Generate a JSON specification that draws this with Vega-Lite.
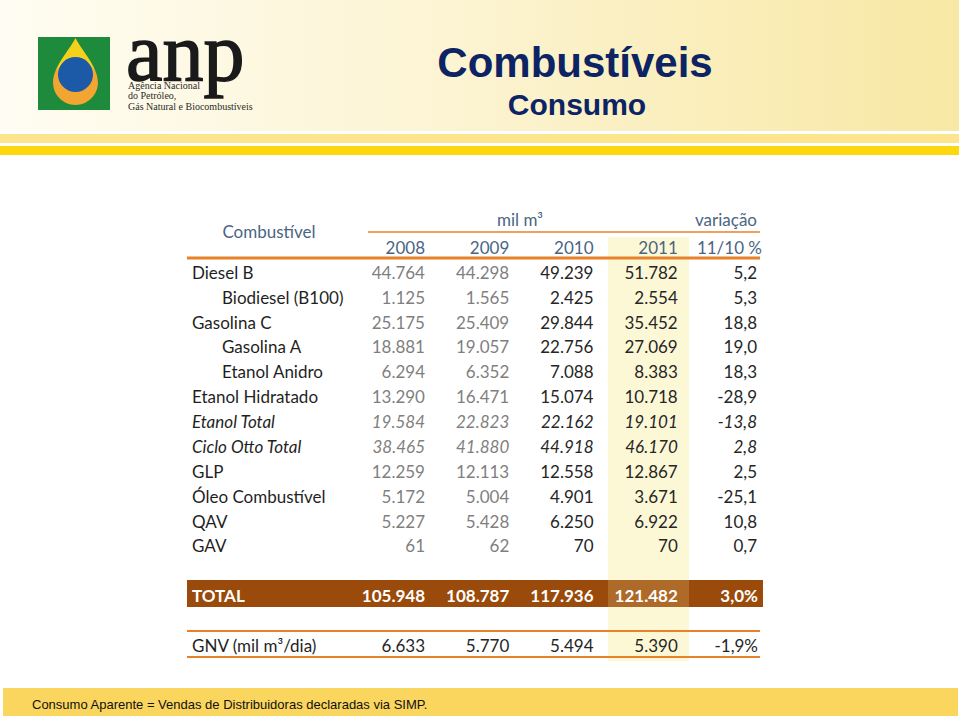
{
  "$schema": "https://vega.github.io/schema/vega-lite/v6.json",
  "width": 959,
  "height": 721,
  "autosize": {"type": "fit", "contains": "padding"},
  "padding": 0,
  "background": "#ffffff",
  "config": {
    "view": {"stroke": null},
    "locale": {"number": {"decimal": ",", "thousands": ".", "grouping": [3], "currency": ["", "%"], "minus": "-"}}
  },
  "datasets": {
    "fuels": [
      {"fuel": "Diesel B", "level": "main", "y2008": 44764, "y2009": 44298, "y2010": 49239, "y2011": 51782, "var": 5.2},
      {"fuel": "Biodiesel (B100)", "level": "sub", "y2008": 1125, "y2009": 1565, "y2010": 2425, "y2011": 2554, "var": 5.3},
      {"fuel": "Gasolina C", "level": "main", "y2008": 25175, "y2009": 25409, "y2010": 29844, "y2011": 35452, "var": 18.8},
      {"fuel": "Gasolina A", "level": "sub", "y2008": 18881, "y2009": 19057, "y2010": 22756, "y2011": 27069, "var": 19.0},
      {"fuel": "Etanol Anidro", "level": "sub", "y2008": 6294, "y2009": 6352, "y2010": 7088, "y2011": 8383, "var": 18.3},
      {"fuel": "Etanol Hidratado", "level": "main", "y2008": 13290, "y2009": 16471, "y2010": 15074, "y2011": 10718, "var": -28.9},
      {"fuel": "Etanol Total", "level": "italic", "y2008": 19584, "y2009": 22823, "y2010": 22162, "y2011": 19101, "var": -13.8},
      {"fuel": "Ciclo Otto Total", "level": "italic", "y2008": 38465, "y2009": 41880, "y2010": 44918, "y2011": 46170, "var": 2.8},
      {"fuel": "GLP", "level": "main", "y2008": 12259, "y2009": 12113, "y2010": 12558, "y2011": 12867, "var": 2.5},
      {"fuel": "Óleo Combustível", "level": "main", "y2008": 5172, "y2009": 5004, "y2010": 4901, "y2011": 3671, "var": -25.1},
      {"fuel": "QAV", "level": "main", "y2008": 5227, "y2009": 5428, "y2010": 6250, "y2011": 6922, "var": 10.8},
      {"fuel": "GAV", "level": "main", "y2008": 61, "y2009": 62, "y2010": 70, "y2011": 70, "var": 0.7},
      {"fuel": "TOTAL", "level": "total", "y2008": 105948, "y2009": 108787, "y2010": 117936, "y2011": 121482, "var": 3.0},
      {"fuel": "GNV (mil m³/dia)", "level": "gnv", "y2008": 6633, "y2009": 5770, "y2010": 5494, "y2011": 5390, "var": -1.9}
    ],
    "cols": [
      {"col": "y2008", "head": "2008"},
      {"col": "y2009", "head": "2009"},
      {"col": "y2010", "head": "2010"},
      {"col": "y2011", "head": "2011"},
      {"col": "var", "head": "11/10 %"}
    ]
  },
  "layer": [
    {"data": {"values": [{}]}, "mark": {"type": "rect", "x": 0, "x2": 959, "y": 0, "y2": 131, "color": {"gradient": "linear", "x1": 0, "y1": 0, "x2": 1, "y2": 0, "stops": [{"offset": 0, "color": "#FFFDF3"}, {"offset": 0.5, "color": "#FCF3D0"}, {"offset": 1, "color": "#F8E8A4"}]}}, "encoding": {}},
    {"data": {"values": [{}]}, "mark": {"type": "rect", "x": 0, "x2": 959, "y": 134, "y2": 143, "color": "#FCE58C"}, "encoding": {}},
    {"data": {"values": [{}]}, "mark": {"type": "rect", "x": 0, "x2": 959, "y": 146, "y2": 155, "color": "#FDD80F"}, "encoding": {}},
    {"data": {"values": [{}]}, "mark": {"type": "rect", "x": 3, "x2": 958, "y": 688, "y2": 716, "color": "#FAD65E"}, "encoding": {}},
    {"data": {"values": [{}]}, "mark": {"type": "rect", "x": 38, "x2": 110, "y": 37, "y2": 110, "color": "#1E8A3C"}, "encoding": {}},
    {"data": {"values": [{}]}, "mark": {"type": "point", "filled": true, "opacity": 1, "x": 75.5, "y": 71.5, "size": 4489, "shape": "M0,-1 C0.2,-0.6 0.67,-0.15 0.67,0.33 A0.67,0.67 0 1 1 -0.67,0.33 C-0.67,-0.15 -0.2,-0.6 0,-1 Z", "color": {"gradient": "linear", "x1": 0, "y1": 0, "x2": 0, "y2": 1, "stops": [{"offset": 0, "color": "#F4D21C"}, {"offset": 0.42, "color": "#F4D21C"}, {"offset": 0.5, "color": "#F2A531"}, {"offset": 1, "color": "#F2A531"}]}}, "encoding": {}},
    {"data": {"values": [{}]}, "mark": {"type": "point", "filled": true, "opacity": 1, "x": 75.5, "y": 74.5, "size": 1225, "shape": "circle", "color": "#1C5AA8"}, "encoding": {}},
    {"data": {"values": [{}]}, "mark": {"type": "text", "x": 126, "y": 80, "text": "anp", "font": "Liberation Serif", "fontSize": 82, "align": "left", "baseline": "alphabetic", "color": "#1a1a1a", "stroke": "#1a1a1a", "strokeWidth": 1.5}, "encoding": {}},
    {"data": {"values": [{}]}, "mark": {"type": "text", "x": 128, "y": 89, "text": "Agência Nacional", "font": "Liberation Serif", "fontSize": 10, "align": "left", "baseline": "alphabetic", "color": "#2a2a2a"}, "encoding": {}},
    {"data": {"values": [{}]}, "mark": {"type": "text", "x": 128, "y": 99, "text": "do Petróleo,", "font": "Liberation Serif", "fontSize": 10, "align": "left", "baseline": "alphabetic", "color": "#2a2a2a"}, "encoding": {}},
    {"data": {"values": [{}]}, "mark": {"type": "text", "x": 128, "y": 109.5, "text": "Gás Natural e Biocombustíveis", "font": "Liberation Serif", "fontSize": 10, "align": "left", "baseline": "alphabetic", "color": "#2a2a2a"}, "encoding": {}},
    {"data": {"values": [{}]}, "mark": {"type": "text", "x": 575, "y": 77, "text": "Combustíveis", "font": "Liberation Sans", "fontWeight": "bold", "fontSize": 42, "align": "center", "baseline": "alphabetic", "color": "#0C2463"}, "encoding": {}},
    {"data": {"values": [{}]}, "mark": {"type": "text", "x": 577, "y": 115, "text": "Consumo", "font": "Liberation Sans", "fontWeight": "bold", "fontSize": 30, "align": "center", "baseline": "alphabetic", "color": "#0C2463"}, "encoding": {}},
    {"data": {"values": [{}]}, "mark": {"type": "rect", "x": 608, "x2": 689, "y": 237, "y2": 661, "color": "#FCF8D6"}, "encoding": {}},
    {"data": {"values": [{}]}, "mark": {"type": "rect", "x": 187, "x2": 763, "y": 580, "y2": 607, "color": "#9A4A0A"}, "encoding": {}},
    {"data": {"values": [{}]}, "mark": {"type": "rect", "x": 608, "x2": 689, "y": 580, "y2": 607, "color": "#F3DE9A", "opacity": 0.22}, "encoding": {}},
    {"data": {"values": [{}]}, "mark": {"type": "rect", "x": 368, "x2": 760, "y": 231.3, "y2": 232.8, "color": "#E8822A"}, "encoding": {}},
    {"data": {"values": [{}]}, "mark": {"type": "rect", "x": 187, "x2": 760, "y": 256.5, "y2": 259.5, "color": "#E8822A"}, "encoding": {}},
    {"data": {"values": [{}]}, "mark": {"type": "rect", "x": 187, "x2": 760, "y": 630, "y2": 632, "color": "#E8822A"}, "encoding": {}},
    {"data": {"values": [{}]}, "mark": {"type": "rect", "x": 187, "x2": 760, "y": 656, "y2": 658, "color": "#E8822A"}, "encoding": {}},
    {"data": {"values": [{}]}, "mark": {"type": "text", "x": 269, "y": 232.5, "text": "Combustível", "font": "Lato", "fontSize": 17, "align": "center", "baseline": "middle", "color": "#4A6583"}, "encoding": {}},
    {"data": {"values": [{}]}, "mark": {"type": "text", "x": 520, "y": 220.5, "text": "mil m³", "font": "Lato", "fontSize": 17, "align": "center", "baseline": "middle", "color": "#4A6583"}, "encoding": {}},
    {"data": {"values": [{}]}, "mark": {"type": "text", "x": 757, "y": 220.5, "text": "variação", "font": "Lato", "fontSize": 17, "align": "right", "baseline": "middle", "color": "#4A6583"}, "encoding": {}},
    {
      "data": {"name": "cols"},
      "mark": {"type": "text", "font": "Lato", "fontSize": 17, "align": "right", "baseline": "middle", "color": "#4A6583"},
      "encoding": {
        "x": {"field": "col", "type": "nominal", "axis": null, "scale": {"type": "point", "domain": ["y2008", "y2009", "y2010", "y2011", "var"], "range": [425, 762], "padding": 0}},
        "y": {"datum": "hdr2", "type": "nominal", "axis": null, "scale": {"type": "point", "domain": ["hdr1", "hdr2", "Diesel B", "Biodiesel (B100)", "Gasolina C", "Gasolina A", "Etanol Anidro", "Etanol Hidratado", "Etanol Total", "Ciclo Otto Total", "GLP", "Óleo Combustível", "QAV", "GAV", "sp1", "TOTAL", "sp2", "GNV (mil m³/dia)"], "range": [224, 647], "padding": 0}},
        "text": {"field": "head", "type": "nominal"}
      }
    },
    {
      "data": {"name": "fuels"},
      "transform": [{"filter": "datum.level === 'main' || datum.level === 'gnv'"}],
      "mark": {"type": "text", "font": "Lato", "fontSize": 17, "align": "left", "baseline": "middle", "color": "#1f1f1f", "x": 192},
      "encoding": {
        "y": {"field": "fuel", "type": "nominal", "axis": null, "scale": {"type": "point", "domain": ["hdr1", "hdr2", "Diesel B", "Biodiesel (B100)", "Gasolina C", "Gasolina A", "Etanol Anidro", "Etanol Hidratado", "Etanol Total", "Ciclo Otto Total", "GLP", "Óleo Combustível", "QAV", "GAV", "sp1", "TOTAL", "sp2", "GNV (mil m³/dia)"], "range": [224, 647], "padding": 0}},
        "text": {"field": "fuel", "type": "nominal"}
      }
    },
    {
      "data": {"name": "fuels"},
      "transform": [{"filter": "datum.level === 'sub'"}],
      "mark": {"type": "text", "font": "Lato", "fontSize": 17, "align": "left", "baseline": "middle", "color": "#1f1f1f", "x": 222},
      "encoding": {
        "y": {"field": "fuel", "type": "nominal", "axis": null, "scale": {"type": "point", "domain": ["hdr1", "hdr2", "Diesel B", "Biodiesel (B100)", "Gasolina C", "Gasolina A", "Etanol Anidro", "Etanol Hidratado", "Etanol Total", "Ciclo Otto Total", "GLP", "Óleo Combustível", "QAV", "GAV", "sp1", "TOTAL", "sp2", "GNV (mil m³/dia)"], "range": [224, 647], "padding": 0}},
        "text": {"field": "fuel", "type": "nominal"}
      }
    },
    {
      "data": {"name": "fuels"},
      "transform": [{"filter": "datum.level === 'italic'"}],
      "mark": {"type": "text", "font": "Lato", "fontSize": 17, "fontStyle": "italic", "align": "left", "baseline": "middle", "color": "#1f1f1f", "x": 192},
      "encoding": {
        "y": {"field": "fuel", "type": "nominal", "axis": null, "scale": {"type": "point", "domain": ["hdr1", "hdr2", "Diesel B", "Biodiesel (B100)", "Gasolina C", "Gasolina A", "Etanol Anidro", "Etanol Hidratado", "Etanol Total", "Ciclo Otto Total", "GLP", "Óleo Combustível", "QAV", "GAV", "sp1", "TOTAL", "sp2", "GNV (mil m³/dia)"], "range": [224, 647], "padding": 0}},
        "text": {"field": "fuel", "type": "nominal"}
      }
    },
    {
      "data": {"name": "fuels"},
      "transform": [{"filter": "datum.level === 'total'"}],
      "mark": {"type": "text", "font": "Lato", "fontSize": 17, "fontWeight": "bold", "align": "left", "baseline": "middle", "color": "#ffffff", "x": 192},
      "encoding": {
        "y": {"field": "fuel", "type": "nominal", "axis": null, "scale": {"type": "point", "domain": ["hdr1", "hdr2", "Diesel B", "Biodiesel (B100)", "Gasolina C", "Gasolina A", "Etanol Anidro", "Etanol Hidratado", "Etanol Total", "Ciclo Otto Total", "GLP", "Óleo Combustível", "QAV", "GAV", "sp1", "TOTAL", "sp2", "GNV (mil m³/dia)"], "range": [224, 647], "padding": 0}},
        "text": {"field": "fuel", "type": "nominal"}
      }
    },
    {
      "data": {"name": "fuels"},
      "transform": [{"filter": "datum.level === 'main' || datum.level === 'sub'"}, {"fold": ["y2008", "y2009", "y2010", "y2011"], "as": ["col", "value"]}],
      "mark": {"type": "text", "font": "Lato", "fontSize": 17, "align": "right", "baseline": "middle"},
      "encoding": {
        "x": {"field": "col", "type": "nominal", "axis": null, "scale": {"type": "point", "domain": ["y2008", "y2009", "y2010", "y2011", "var"], "range": [425, 762], "padding": 0}},
        "y": {"field": "fuel", "type": "nominal", "axis": null, "scale": {"type": "point", "domain": ["hdr1", "hdr2", "Diesel B", "Biodiesel (B100)", "Gasolina C", "Gasolina A", "Etanol Anidro", "Etanol Hidratado", "Etanol Total", "Ciclo Otto Total", "GLP", "Óleo Combustível", "QAV", "GAV", "sp1", "TOTAL", "sp2", "GNV (mil m³/dia)"], "range": [224, 647], "padding": 0}},
        "text": {"field": "value", "type": "quantitative", "format": ",.0f"},
        "color": {"field": "col", "type": "nominal", "legend": null, "scale": {"domain": ["y2008", "y2009", "y2010", "y2011", "var"], "range": ["#7f7f7f", "#7f7f7f", "#262626", "#262626", "#262626"]}}
      }
    },
    {
      "data": {"name": "fuels"},
      "transform": [{"filter": "datum.level === 'italic'"}, {"fold": ["y2008", "y2009", "y2010", "y2011"], "as": ["col", "value"]}],
      "mark": {"type": "text", "font": "Lato", "fontSize": 17, "fontStyle": "italic", "align": "right", "baseline": "middle"},
      "encoding": {
        "x": {"field": "col", "type": "nominal", "axis": null, "scale": {"type": "point", "domain": ["y2008", "y2009", "y2010", "y2011", "var"], "range": [425, 762], "padding": 0}},
        "y": {"field": "fuel", "type": "nominal", "axis": null, "scale": {"type": "point", "domain": ["hdr1", "hdr2", "Diesel B", "Biodiesel (B100)", "Gasolina C", "Gasolina A", "Etanol Anidro", "Etanol Hidratado", "Etanol Total", "Ciclo Otto Total", "GLP", "Óleo Combustível", "QAV", "GAV", "sp1", "TOTAL", "sp2", "GNV (mil m³/dia)"], "range": [224, 647], "padding": 0}},
        "text": {"field": "value", "type": "quantitative", "format": ",.0f"},
        "color": {"field": "col", "type": "nominal", "legend": null, "scale": {"domain": ["y2008", "y2009", "y2010", "y2011", "var"], "range": ["#7f7f7f", "#7f7f7f", "#262626", "#262626", "#262626"]}}
      }
    },
    {
      "data": {"name": "fuels"},
      "transform": [{"filter": "datum.level === 'total'"}, {"fold": ["y2008", "y2009", "y2010", "y2011"], "as": ["col", "value"]}],
      "mark": {"type": "text", "font": "Lato", "fontSize": 17, "fontWeight": "bold", "align": "right", "baseline": "middle", "color": "#ffffff"},
      "encoding": {
        "x": {"field": "col", "type": "nominal", "axis": null, "scale": {"type": "point", "domain": ["y2008", "y2009", "y2010", "y2011", "var"], "range": [425, 762], "padding": 0}},
        "y": {"field": "fuel", "type": "nominal", "axis": null, "scale": {"type": "point", "domain": ["hdr1", "hdr2", "Diesel B", "Biodiesel (B100)", "Gasolina C", "Gasolina A", "Etanol Anidro", "Etanol Hidratado", "Etanol Total", "Ciclo Otto Total", "GLP", "Óleo Combustível", "QAV", "GAV", "sp1", "TOTAL", "sp2", "GNV (mil m³/dia)"], "range": [224, 647], "padding": 0}},
        "text": {"field": "value", "type": "quantitative", "format": ",.0f"}
      }
    },
    {
      "data": {"name": "fuels"},
      "transform": [{"filter": "datum.level === 'gnv'"}, {"fold": ["y2008", "y2009", "y2010", "y2011"], "as": ["col", "value"]}],
      "mark": {"type": "text", "font": "Lato", "fontSize": 17, "align": "right", "baseline": "middle", "color": "#262626"},
      "encoding": {
        "x": {"field": "col", "type": "nominal", "axis": null, "scale": {"type": "point", "domain": ["y2008", "y2009", "y2010", "y2011", "var"], "range": [425, 762], "padding": 0}},
        "y": {"field": "fuel", "type": "nominal", "axis": null, "scale": {"type": "point", "domain": ["hdr1", "hdr2", "Diesel B", "Biodiesel (B100)", "Gasolina C", "Gasolina A", "Etanol Anidro", "Etanol Hidratado", "Etanol Total", "Ciclo Otto Total", "GLP", "Óleo Combustível", "QAV", "GAV", "sp1", "TOTAL", "sp2", "GNV (mil m³/dia)"], "range": [224, 647], "padding": 0}},
        "text": {"field": "value", "type": "quantitative", "format": ",.0f"}
      }
    },
    {
      "data": {"name": "fuels"},
      "transform": [{"filter": "datum.level === 'main' || datum.level === 'sub'"}],
      "mark": {"type": "text", "font": "Lato", "fontSize": 17, "align": "right", "baseline": "middle", "color": "#262626", "dx": -5},
      "encoding": {
        "x": {"datum": "var", "type": "nominal", "axis": null, "scale": {"type": "point", "domain": ["y2008", "y2009", "y2010", "y2011", "var"], "range": [425, 762], "padding": 0}},
        "y": {"field": "fuel", "type": "nominal", "axis": null, "scale": {"type": "point", "domain": ["hdr1", "hdr2", "Diesel B", "Biodiesel (B100)", "Gasolina C", "Gasolina A", "Etanol Anidro", "Etanol Hidratado", "Etanol Total", "Ciclo Otto Total", "GLP", "Óleo Combustível", "QAV", "GAV", "sp1", "TOTAL", "sp2", "GNV (mil m³/dia)"], "range": [224, 647], "padding": 0}},
        "text": {"field": "var", "type": "quantitative", "format": ".1f"}
      }
    },
    {
      "data": {"name": "fuels"},
      "transform": [{"filter": "datum.level === 'italic'"}],
      "mark": {"type": "text", "font": "Lato", "fontSize": 17, "fontStyle": "italic", "align": "right", "baseline": "middle", "color": "#262626", "dx": -5},
      "encoding": {
        "x": {"datum": "var", "type": "nominal", "axis": null, "scale": {"type": "point", "domain": ["y2008", "y2009", "y2010", "y2011", "var"], "range": [425, 762], "padding": 0}},
        "y": {"field": "fuel", "type": "nominal", "axis": null, "scale": {"type": "point", "domain": ["hdr1", "hdr2", "Diesel B", "Biodiesel (B100)", "Gasolina C", "Gasolina A", "Etanol Anidro", "Etanol Hidratado", "Etanol Total", "Ciclo Otto Total", "GLP", "Óleo Combustível", "QAV", "GAV", "sp1", "TOTAL", "sp2", "GNV (mil m³/dia)"], "range": [224, 647], "padding": 0}},
        "text": {"field": "var", "type": "quantitative", "format": ".1f"}
      }
    },
    {
      "data": {"name": "fuels"},
      "transform": [{"filter": "datum.level === 'total'"}],
      "mark": {"type": "text", "font": "Lato", "fontSize": 17, "fontWeight": "bold", "align": "right", "baseline": "middle", "color": "#ffffff", "dx": -4},
      "encoding": {
        "x": {"datum": "var", "type": "nominal", "axis": null, "scale": {"type": "point", "domain": ["y2008", "y2009", "y2010", "y2011", "var"], "range": [425, 762], "padding": 0}},
        "y": {"field": "fuel", "type": "nominal", "axis": null, "scale": {"type": "point", "domain": ["hdr1", "hdr2", "Diesel B", "Biodiesel (B100)", "Gasolina C", "Gasolina A", "Etanol Anidro", "Etanol Hidratado", "Etanol Total", "Ciclo Otto Total", "GLP", "Óleo Combustível", "QAV", "GAV", "sp1", "TOTAL", "sp2", "GNV (mil m³/dia)"], "range": [224, 647], "padding": 0}},
        "text": {"field": "var", "type": "quantitative", "format": "$.1f"}
      }
    },
    {
      "data": {"name": "fuels"},
      "transform": [{"filter": "datum.level === 'gnv'"}],
      "mark": {"type": "text", "font": "Lato", "fontSize": 17, "align": "right", "baseline": "middle", "color": "#262626", "dx": -4},
      "encoding": {
        "x": {"datum": "var", "type": "nominal", "axis": null, "scale": {"type": "point", "domain": ["y2008", "y2009", "y2010", "y2011", "var"], "range": [425, 762], "padding": 0}},
        "y": {"field": "fuel", "type": "nominal", "axis": null, "scale": {"type": "point", "domain": ["hdr1", "hdr2", "Diesel B", "Biodiesel (B100)", "Gasolina C", "Gasolina A", "Etanol Anidro", "Etanol Hidratado", "Etanol Total", "Ciclo Otto Total", "GLP", "Óleo Combustível", "QAV", "GAV", "sp1", "TOTAL", "sp2", "GNV (mil m³/dia)"], "range": [224, 647], "padding": 0}},
        "text": {"field": "var", "type": "quantitative", "format": "$.1f"}
      }
    },
    {"data": {"values": [{}]}, "mark": {"type": "text", "x": 32, "y": 705, "text": "Consumo Aparente = Vendas de Distribuidoras declaradas via SIMP.", "font": "Liberation Sans", "fontSize": 13, "align": "left", "baseline": "middle", "color": "#111111"}, "encoding": {}}
  ]
}
